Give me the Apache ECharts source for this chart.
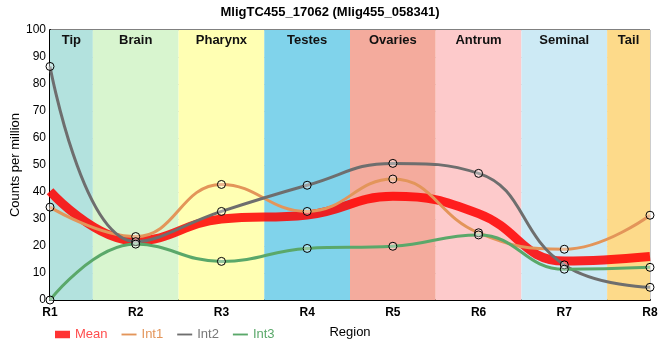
<!DOCTYPE html>
<html><head><meta charset="utf-8">
<script src="https://cdn.jsdelivr.net/npm/echarts@6/dist/echarts.min.js"></script>
<style>html,body{margin:0;padding:0;background:#fff}#c{width:660px;height:360px}</style>
</head><body><div id="c"></div>
<script>
const categories = ['R1','R2','R3','R4','R5','R6','R7','R8'];
const regions = ['Tip','Brain','Pharynx','Testes','Ovaries','Antrum','Seminal','Tail'];
const regionColors = ['#b3e2de','#d8f5cf','#ffffb3','#80d3eb','#f4ab9d','#fdcacb','#cdeaf5','#fdda8a'];
const meanVals = [40.3, 21.9, 30.0, 31.5, 38.4, 32.0, 14.4, 16.1];
const int1Vals = [34.4, 23.5, 42.8, 32.8, 44.8, 24.9, 18.8, 31.4];
const int2Vals = [86.5, 21.6, 32.8, 42.5, 50.6, 46.9, 13.0, 4.7];
const int3Vals = [0.0, 20.7, 14.3, 19.1, 19.9, 24.1, 11.4, 12.1];
const yTicks = [0,10,20,30,40,50,60,70,80,90,100];

const toPts = v => v.map((y,i)=>[i,y]);
const n = categories.length;
const font = 'Liberation Sans, Arial, sans-serif';
const areas = regions.map((r,i)=>[
  {xAxis: Math.max(0,i-0.5), itemStyle:{color:regionColors[i]}, label:{show:true,position:'insideTop',formatter:r,fontWeight:'bold',fontSize:13,color:'#111',distance:4,fontFamily:font}},
  {xAxis: Math.min(n-1,i+0.5)}
]);
const ptStyle = {symbol:'circle',symbolSize:8,itemStyle:{color:'rgba(255,255,255,0.35)',borderColor:'#000',borderWidth:1}};
const thinIcon = 'path://M0,0M16,8M0,3H16V5H0Z';
const thickIcon = 'path://M0,0H16V8H0Z';
const SM = 0.45;
const chart = echarts.init(document.getElementById('c'));
chart.setOption({
  animation:false,
  textStyle:{fontFamily:font},
  title:{text:'MligTC455_17062 (Mlig455_058341)',left:'center',top:1,textStyle:{fontSize:13,fontWeight:'bold',color:'#000',fontFamily:font}},
  grid:{left:50,right:10,top:30,bottom:60,show:true,borderColor:'#000',borderWidth:1,containLabel:false,outerBoundsMode:'none'},
  legend:{left:50,top:323,itemGap:14,itemWidth:15,itemHeight:8,textStyle:{fontSize:13,fontFamily:font},
    data:[{name:'Mean',icon:thickIcon,itemStyle:{color:'#ff3333',borderColor:'#ff3333',borderWidth:0},textStyle:{color:'#ff4d4d'}},
          {name:'Int1',icon:thinIcon,itemStyle:{color:'#e3955a',borderColor:'#e3955a',borderWidth:0},textStyle:{color:'#e3955a'}},
          {name:'Int2',icon:thinIcon,itemStyle:{color:'#6e6e6e',borderColor:'#6e6e6e',borderWidth:0},textStyle:{color:'#777'}},
          {name:'Int3',icon:thinIcon,itemStyle:{color:'#5aa86a',borderColor:'#5aa86a',borderWidth:0},textStyle:{color:'#5aa86a'}}]},
  xAxis:{type:'value',min:0,max:n-1,interval:1,name:'Region',nameLocation:'middle',nameGap:26,nameMoveOverlap:false,
    nameTextStyle:{color:'#000',fontSize:13,fontFamily:font},
    axisLine:{lineStyle:{color:'#000',width:2}},axisTick:{show:false},
    axisLabel:{formatter:v=>categories[v]||'',color:'#000',fontSize:12,fontWeight:'bold',margin:7},
    splitLine:{show:true,lineStyle:{color:'#ccc'}}},
  yAxis:{type:'value',min:yTicks[0],max:yTicks[yTicks.length-1],interval:10,name:'Counts per million',nameLocation:'middle',nameGap:28,nameMoveOverlap:false,
    nameTextStyle:{color:'#000',fontSize:13,fontFamily:font},
    axisLine:{show:true,lineStyle:{color:'#000',width:2}},axisTick:{show:false},
    axisLabel:{color:'#000',fontSize:12,margin:4},
    splitLine:{show:true,lineStyle:{color:'#ccc'}}},
  series:[
    {name:'bg',type:'line',data:[],silent:true,markArea:{silent:true,data:areas},z:0},
    Object.assign({name:'Int1',type:'line',data:toPts(int1Vals),smooth:SM,lineStyle:{color:'#e3955a',width:3},color:'#e3955a'},ptStyle),
    Object.assign({name:'Int2',type:'line',data:toPts(int2Vals),smooth:SM,lineStyle:{color:'#6e6e6e',width:3},color:'#6e6e6e'},ptStyle),
    Object.assign({name:'Int3',type:'line',data:toPts(int3Vals),smooth:SM,lineStyle:{color:'#5aa86a',width:3},color:'#5aa86a'},ptStyle),
    {name:'Mean',type:'line',data:toPts(meanVals),smooth:SM,showSymbol:false,symbol:'none',lineStyle:{color:'rgba(255,0,0,0.85)',width:9},color:'#ff3333',z:1}
  ]
});
</script></body></html>
